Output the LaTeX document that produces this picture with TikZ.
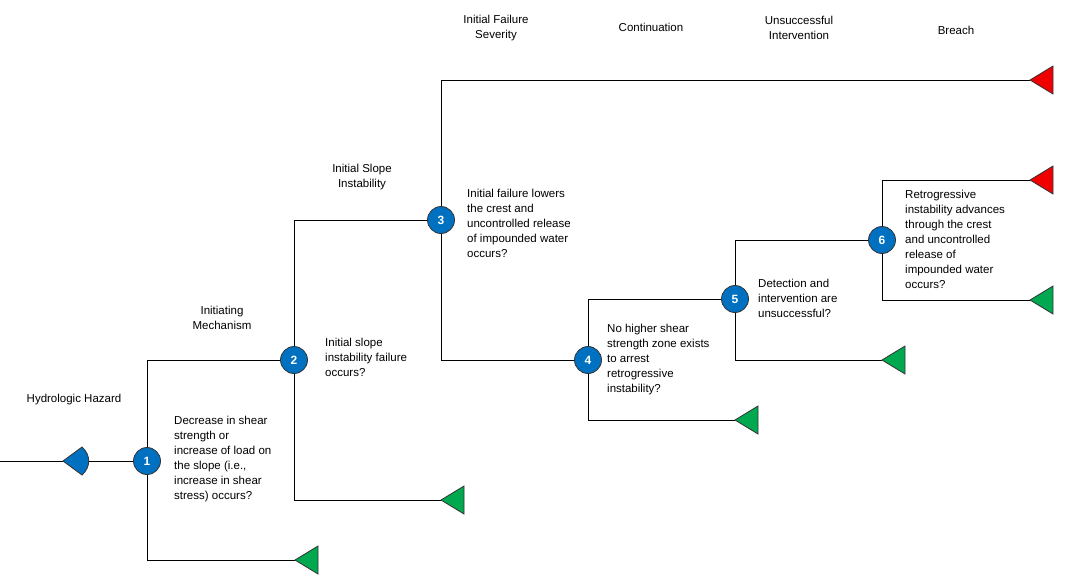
\documentclass[tikz,border=0pt]{standalone}
\usepackage{fontspec}
\setmainfont{Liberation Sans}
\begin{document}
\begin{tikzpicture}[x=1pt,y=-1pt,
  ev/.style={circle,draw=black!80,fill=blue!60!cyan!70!black,text=white,font=\fontsize{12}{12}\selectfont\bfseries,minimum size=27pt,inner sep=0pt,line width=0.8pt},
  txt/.style={anchor=north west,inner sep=0pt,align=left,font=\fontsize{11.5}{15}\selectfont},
  hd/.style={inner sep=0pt,align=center,font=\fontsize{11.5}{15}\selectfont},
  ln/.style={line width=0.9pt},
  tri/.style={draw=black!80,line width=0.8pt}]
\useasboundingbox (0,0) rectangle (1073,582);
\definecolor{tgreen}{RGB}{0,168,80}
\definecolor{tred}{RGB}{240,0,0}
\definecolor{tblue}{RGB}{0,112,192}
\newcommand{\termtri}[3]{\filldraw[tri,fill=#3] (#1,#2) -- (#1+23,#2-14) -- (#1+23,#2+14) -- cycle;}
% nodes
\node[ev,fill=tblue] (n1) at (147,461) {1};
\node[ev,fill=tblue] (n2) at (294,360) {2};
\node[ev,fill=tblue] (n3) at (441,220) {3};
\node[ev,fill=tblue] (n4) at (588,360) {4};
\node[ev,fill=tblue] (n5) at (735,299) {5};
\node[ev,fill=tblue] (n6) at (882,240) {6};
\coordinate (s0) at (0,461);
\coordinate (h) at (63,461);
\coordinate (t1) at (295,560);
\coordinate (t2) at (441,500);
\coordinate (t3) at (1030,80);
\coordinate (t4) at (735,420);
\coordinate (t5) at (882,360);
\coordinate (t6a) at (1030,180);
\coordinate (t6b) at (1030,300);
% connectors
\draw[ln] (s0) -- (h);
\draw[ln] (h) -- (n1);
\draw[ln] (n1) |- (n2);
\draw[ln] (n1) |- (t1);
\draw[ln] (n2) |- (n3);
\draw[ln] (n2) |- (t2);
\draw[ln] (n3) |- (t3);
\draw[ln] (n3) |- (n4);
\draw[ln] (n4) |- (n5);
\draw[ln] (n4) |- (t4);
\draw[ln] (n5) |- (n6);
\draw[ln] (n5) |- (t5);
\draw[ln] (n6) |- (t6a);
\draw[ln] (n6) |- (t6b);
% hazard symbol
\filldraw[tri,fill=tblue] (63,461) -- (82,447) .. controls (91,455) and (91,467) .. (82,475) -- cycle;
% end triangles
\termtri{295}{560}{tgreen}
\termtri{441}{500}{tgreen}
\termtri{1030}{80}{tred}
\termtri{735}{420}{tgreen}
\termtri{882}{360}{tgreen}
\termtri{1030}{180}{tred}
\termtri{1030}{300}{tgreen}
% texts
\node[txt] (d1) at (174,416) {Decrease in shear\\strength or\\increase of load on\\the slope (i.e.,\\increase in shear\\stress) occurs?};
\node[txt] (d2) at (325,338) {Initial slope\\instability failure\\occurs?};
\node[txt] (d3) at (467,189) {Initial failure lowers\\the crest and\\uncontrolled release\\of impounded water\\occurs?};
\node[txt] (d4) at (607,324) {No higher shear\\strength zone exists\\to arrest\\retrogressive\\instability?};
\node[txt] (d5) at (758,279) {Detection and\\intervention are\\unsuccessful?};
\node[txt] (d6) at (905,190) {Retrogressive\\instability advances\\through the crest\\and uncontrolled\\release of\\impounded water\\occurs?};
% headings
\node[hd] (hh) at (74,400) {Hydrologic Hazard};
\node[hd] (hm) at (222,318) {Initiating\\Mechanism};
\node[hd] (hs) at (362,177) {Initial Slope\\Instability};
\node[hd] (hf) at (496,28) {Initial Failure\\Severity};
\node[hd] (hc) at (651,27) {Continuation};
\node[hd] (hu) at (799,28) {Unsuccessful\\Intervention};
\node[hd] (hb) at (956,30) {Breach};
\end{tikzpicture}
\end{document}
